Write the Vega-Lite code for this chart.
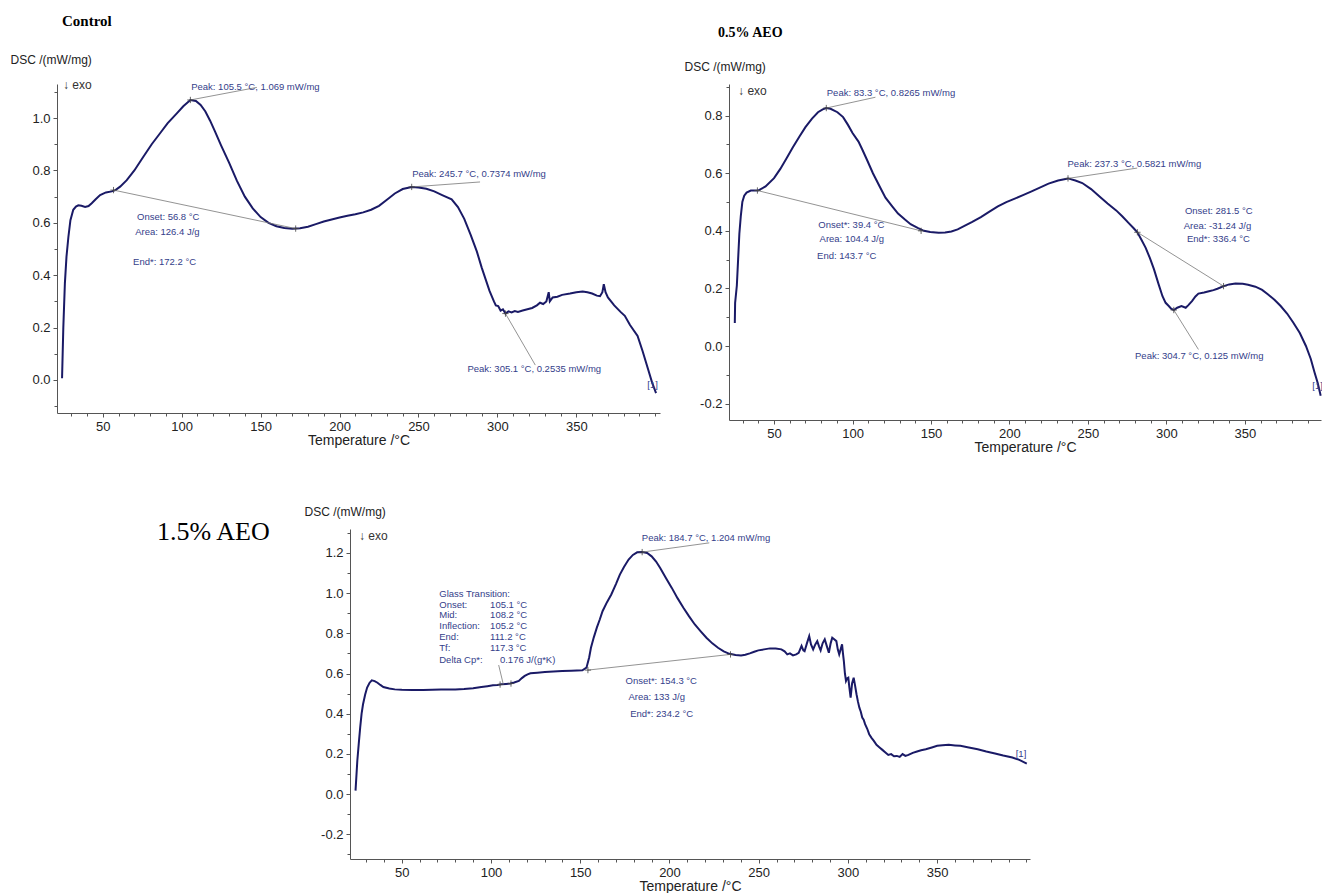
{
"$schema": "https://vega.github.io/schema/vega-lite/v6.json",
"background": "white",
"padding": {"left": 10, "top": 14, "right": 0, "bottom": 0},
"config": {
 "view": {"stroke": null},
 "axis": {"grid": false, "domainColor": "#555", "tickColor": "#555", "labelColor": "#222", "titleColor": "#222", "labelFont": "Liberation Sans", "titleFont": "Liberation Sans", "labelFontSize": 13, "titleFontWeight": "normal", "tickSize": 4, "labelPadding": 3, "labelFlush": false},
 "axisX": {"titleFontSize": 14, "titlePadding": 0},
 "axisY": {"titleFontSize": 12, "titleAngle": 0, "titleAlign": "left", "titleBaseline": "middle"},
 "title": {"font": "Liberation Serif", "color": "#000", "anchor": "start", "frame": "group"},
 "text": {"font": "Liberation Sans"}
},
"spacing": 51,
"vconcat": [
{"hconcat": [
{
 "width": 603, "height": 329,
 "title": {"text": "Control", "fontSize": 15, "fontWeight": "bold", "dx": 5, "offset": 24},
 "resolve": {"axis": {"x": "independent", "y": "independent"}},
 "layer": [
  {"data": {"values": [
{"t":24.2,"v":0.007},{"t":25,"v":0.2},{"t":26,"v":0.37},{"t":27,"v":0.47},{"t":28.2,"v":0.545},{"t":29.5,"v":0.61},{"t":31.3,"v":0.65},{"t":33,"v":0.662},{"t":34.5,"v":0.667},{"t":36.5,"v":0.665},{"t":38.8,"v":0.661},{"t":41,"v":0.664},{"t":43,"v":0.675},{"t":45.5,"v":0.69},{"t":48.3,"v":0.706},{"t":52,"v":0.716},{"t":55.7,"v":0.72},{"t":58,"v":0.725},{"t":61,"v":0.738},{"t":65.2,"v":0.763},{"t":70,"v":0.8},{"t":75.7,"v":0.852},{"t":81,"v":0.9},{"t":86.3,"v":0.942},{"t":91,"v":0.98},{"t":96.9,"v":1.018},{"t":101,"v":1.045},{"t":105.5,"v":1.069},{"t":109,"v":1.065},{"t":112,"v":1.05},{"t":115,"v":1.025},{"t":118,"v":0.99},{"t":121,"v":0.95},{"t":125,"v":0.895},{"t":130,"v":0.83},{"t":135,"v":0.76},{"t":140,"v":0.7},{"t":145,"v":0.655},{"t":150,"v":0.622},{"t":155,"v":0.6},{"t":160,"v":0.587},{"t":165,"v":0.58},{"t":170,"v":0.577},{"t":175,"v":0.579},{"t":180,"v":0.585},{"t":185,"v":0.595},{"t":190,"v":0.605},{"t":195,"v":0.613},{"t":200,"v":0.62},{"t":205,"v":0.627},{"t":210,"v":0.633},{"t":215,"v":0.64},{"t":220,"v":0.65},{"t":225,"v":0.665},{"t":230,"v":0.688},{"t":235,"v":0.712},{"t":240,"v":0.729},{"t":245.7,"v":0.737},{"t":250,"v":0.735},{"t":255,"v":0.73},{"t":260,"v":0.72},{"t":265,"v":0.706},{"t":271,"v":0.69},{"t":275,"v":0.66},{"t":279,"v":0.615},{"t":283,"v":0.555},{"t":287,"v":0.49},{"t":290,"v":0.43},{"t":292.5,"v":0.385},{"t":295,"v":0.34},{"t":297.8,"v":0.3},{"t":299,"v":0.285},{"t":300.5,"v":0.282},{"t":302,"v":0.265},{"t":303.5,"v":0.27},{"t":305.1,"v":0.2535},{"t":307,"v":0.262},{"t":309,"v":0.258},{"t":311,"v":0.263},{"t":313,"v":0.26},{"t":316,"v":0.265},{"t":319,"v":0.27},{"t":322,"v":0.275},{"t":325,"v":0.285},{"t":327,"v":0.295},{"t":329,"v":0.29},{"t":331,"v":0.3},{"t":332.5,"v":0.335},{"t":333.2,"v":0.3},{"t":335,"v":0.315},{"t":338,"v":0.318},{"t":341,"v":0.325},{"t":346,"v":0.33},{"t":350,"v":0.335},{"t":354,"v":0.338},{"t":357,"v":0.335},{"t":360,"v":0.33},{"t":363,"v":0.322},{"t":365,"v":0.32},{"t":366.5,"v":0.335},{"t":367.4,"v":0.366},{"t":368.5,"v":0.335},{"t":370,"v":0.315},{"t":374,"v":0.285},{"t":378,"v":0.26},{"t":380.7,"v":0.245},{"t":384,"v":0.21},{"t":388.8,"v":0.168},{"t":392,"v":0.11},{"t":395.5,"v":0.04},{"t":398,"v":-0.01},{"t":400.5,"v":-0.05}
  ]},
   "mark": {"type": "line", "color": "#1a1a66", "strokeWidth": 2},
   "encoding": {
    "x": {"field": "t", "type": "quantitative", "scale": {"domain": [21, 403], "nice": false, "zero": false},
      "axis": {"title": "Temperature /°C", "orient": "bottom", "values": [50,100,150,200,250,300,350]}},
    "y": {"field": "v", "type": "quantitative", "scale": {"domain": [-0.126, 1.13], "nice": false, "zero": false},
      "axis": {"title": "DSC /(mW/mg)", "orient": "left", "titleX": -47, "titleY": -25, "values": [0,0.2,0.4,0.6,0.8,1], "format": ".1f", "labelExpr": "replace(datum.label, '\u2212', '-')"}}
   }},
  {"data": {"values": [
{"t1":56.8,"v1":0.725,"t2":172.2,"v2":0.578},{"t1":105.5,"v1":1.069,"t2":147.6,"v2":1.117},{"t1":245.7,"v1":0.737,"t2":289,"v2":0.756},{"t1":305.1,"v1":0.2535,"t2":324,"v2":0.057}
  ]},
   "mark": {"type": "rule", "color": "#777", "strokeWidth": 0.8},
   "encoding": {
    "x": {"field": "t1", "type": "quantitative", "axis": {"orient": "bottom", "title": null, "labels": false, "domain": false, "tickSize": 3, "values": [30,40,60,70,80,90,110,120,130,140,160,170,180,190,210,220,230,240,260,270,280,290,310,320,330,340,360,370,380,390,400]}},
    "x2": {"field": "t2"},
    "y": {"field": "v1", "type": "quantitative", "axis": {"orient": "left", "title": null, "labels": false, "domain": false, "tickSize": 3, "values": [-0.1,0.1,0.3,0.5,0.7,0.9,1.1]}},
    "y2": {"field": "v2"}}},
  {"data": {"values": [{"t":56.8,"v":0.725},{"t":172.2,"v":0.578},{"t":105.5,"v":1.069},{"t":245.7,"v":0.737},{"t":305.1,"v":0.2535}]},
   "mark": {"type": "point", "shape": "M0,-1L0,1M-1,0L1,0", "size": 40, "filled": false, "color": "#444", "strokeWidth": 0.8, "opacity": 1},
   "encoding": {"x": {"field": "t", "type": "quantitative", "axis": null}, "y": {"field": "v", "type": "quantitative", "axis": null}}},
  {"data": {"values": [
{"t":106,"v":1.118,"label":"Peak: 105.5 °C, 1.069 mW/mg"},{"t":246,"v":0.786,"label":"Peak: 245.7 °C, 0.7374 mW/mg"},{"t":281,"v":0.042,"label":"Peak: 305.1 °C, 0.2535 mW/mg"},{"t":71.7,"v":0.622,"label":"Onset: 56.8 °C"},{"t":70.5,"v":0.565,"label":"Area: 126.4 J/g"},{"t":69.2,"v":0.45,"label":"End*: 172.2 °C"},{"t":395,"v":-0.02,"label":"[1]"}
  ]},
   "mark": {"type": "text", "align": "left", "baseline": "middle", "fontSize": 9.5, "color": "#34408a"},
   "encoding": {"x": {"field": "t", "type": "quantitative", "axis": null}, "y": {"field": "v", "type": "quantitative", "axis": null}, "text": {"field": "label"}}},
  {"data": {"values": [{"t":24.8,"v":1.126,"label":"↓ exo"}]},
   "mark": {"type": "text", "align": "left", "baseline": "middle", "fontSize": 12, "color": "#333"},
   "encoding": {"x": {"field": "t", "type": "quantitative", "axis": null}, "y": {"field": "v", "type": "quantitative", "axis": null}, "text": {"field": "label"}}}
 ]
},
{
 "width": 592, "height": 336,
 "title": {"text": "0.5% AEO", "fontSize": 14, "fontWeight": "bold", "dx": -11, "offset": 20},
 "resolve": {"axis": {"x": "independent", "y": "independent"}},
 "layer": [
  {"data": {"values": [
{"t":25,"v":0.08},{"t":25.2,"v":0.15},{"t":26.3,"v":0.21},{"t":27.1,"v":0.3},{"t":27.9,"v":0.39},{"t":28.8,"v":0.45},{"t":29.8,"v":0.5},{"t":31,"v":0.522},{"t":32.5,"v":0.533},{"t":35.2,"v":0.54},{"t":39.8,"v":0.54},{"t":44.6,"v":0.554},{"t":50,"v":0.583},{"t":54,"v":0.615},{"t":58,"v":0.652},{"t":62,"v":0.69},{"t":66.1,"v":0.727},{"t":70,"v":0.76},{"t":74.2,"v":0.79},{"t":78,"v":0.812},{"t":81,"v":0.822},{"t":83.3,"v":0.8265},{"t":86,"v":0.824},{"t":90.4,"v":0.812},{"t":94,"v":0.795},{"t":97.1,"v":0.768},{"t":100,"v":0.74},{"t":103.8,"v":0.71},{"t":106,"v":0.685},{"t":109.2,"v":0.647},{"t":113,"v":0.6},{"t":117.3,"v":0.554},{"t":121,"v":0.515},{"t":125.3,"v":0.485},{"t":129,"v":0.46},{"t":133.4,"v":0.439},{"t":137,"v":0.423},{"t":141.5,"v":0.41},{"t":145.5,"v":0.4},{"t":149.5,"v":0.396},{"t":154.9,"v":0.393},{"t":159,"v":0.394},{"t":163,"v":0.398},{"t":167,"v":0.405},{"t":171,"v":0.416},{"t":176,"v":0.43},{"t":181.8,"v":0.448},{"t":187,"v":0.466},{"t":192.6,"v":0.485},{"t":198,"v":0.5},{"t":203.4,"v":0.512},{"t":209,"v":0.525},{"t":214.1,"v":0.537},{"t":219,"v":0.549},{"t":224.9,"v":0.564},{"t":231,"v":0.575},{"t":237.3,"v":0.5821},{"t":242,"v":0.575},{"t":246.4,"v":0.566},{"t":252,"v":0.545},{"t":257.2,"v":0.52},{"t":262.5,"v":0.495},{"t":268,"v":0.471},{"t":272,"v":0.45},{"t":276,"v":0.427},{"t":279,"v":0.41},{"t":281.5,"v":0.395},{"t":284,"v":0.37},{"t":286.8,"v":0.341},{"t":289.5,"v":0.305},{"t":292.1,"v":0.266},{"t":295,"v":0.215},{"t":297.5,"v":0.173},{"t":299.5,"v":0.15},{"t":301.5,"v":0.139},{"t":303,"v":0.13},{"t":304.7,"v":0.125},{"t":306.9,"v":0.133},{"t":309.6,"v":0.139},{"t":312.3,"v":0.133},{"t":314,"v":0.142},{"t":316.3,"v":0.156},{"t":318.5,"v":0.172},{"t":320.4,"v":0.182},{"t":324,"v":0.186},{"t":327.1,"v":0.19},{"t":330,"v":0.194},{"t":332.5,"v":0.199},{"t":336.5,"v":0.208},{"t":340,"v":0.214},{"t":344,"v":0.217},{"t":348.6,"v":0.216},{"t":352,"v":0.213},{"t":356.7,"v":0.206},{"t":361,"v":0.195},{"t":364.8,"v":0.179},{"t":369,"v":0.16},{"t":372.8,"v":0.139},{"t":377,"v":0.112},{"t":380.9,"v":0.081},{"t":385,"v":0.045},{"t":388.9,"v":0.0},{"t":392,"v":-0.045},{"t":394.4,"v":-0.092},{"t":396.5,"v":-0.13},{"t":398.3,"v":-0.173}
  ]},
   "mark": {"type": "line", "color": "#1a1a66", "strokeWidth": 2},
   "encoding": {
    "x": {"field": "t", "type": "quantitative", "scale": {"domain": [21.3, 398.5], "nice": false, "zero": false},
      "axis": {"title": "Temperature /°C", "orient": "bottom", "values": [50,100,150,200,250,300,350]}},
    "y": {"field": "v", "type": "quantitative", "scale": {"domain": [-0.257, 0.91], "nice": false, "zero": false},
      "axis": {"title": "DSC /(mW/mg)", "orient": "left", "titleX": -45, "titleY": -18, "values": [-0.2,0,0.2,0.4,0.6,0.8], "format": ".1f", "labelExpr": "replace(datum.label, '\u2212', '-')"}}
   }},
  {"data": {"values": [
{"t1":39.4,"v1":0.54,"t2":143.7,"v2":0.4},{"t1":281.5,"v1":0.395,"t2":336.4,"v2":0.208},{"t1":83.3,"v1":0.8265,"t2":114.6,"v2":0.864},{"t1":237.3,"v1":0.5821,"t2":281.4,"v2":0.618},{"t1":304.7,"v1":0.125,"t2":320.4,"v2":-0.012}
  ]},
   "mark": {"type": "rule", "color": "#777", "strokeWidth": 0.8},
   "encoding": {
    "x": {"field": "t1", "type": "quantitative", "axis": {"orient": "bottom", "title": null, "labels": false, "domain": false, "tickSize": 3, "values": [30,40,60,70,80,90,110,120,130,140,160,170,180,190,210,220,230,240,260,270,280,290,310,320,330,340,360,370,380,390]}},
    "x2": {"field": "t2"},
    "y": {"field": "v1", "type": "quantitative", "axis": {"orient": "left", "title": null, "labels": false, "domain": false, "tickSize": 3, "values": [-0.1,0.1,0.3,0.5,0.7,0.9]}},
    "y2": {"field": "v2"}}},
  {"data": {"values": [{"t":39.4,"v":0.54},{"t":143.7,"v":0.4},{"t":281.5,"v":0.395},{"t":336.4,"v":0.208},{"t":83.3,"v":0.8265},{"t":237.3,"v":0.5821},{"t":304.7,"v":0.125}]},
   "mark": {"type": "point", "shape": "M0,-1L0,1M-1,0L1,0", "size": 40, "filled": false, "color": "#444", "strokeWidth": 0.8, "opacity": 1},
   "encoding": {"x": {"field": "t", "type": "quantitative", "axis": null}, "y": {"field": "v", "type": "quantitative", "axis": null}}},
  {"data": {"values": [
{"t":83.6,"v":0.878,"label":"Peak: 83.3 °C, 0.8265 mW/mg"},{"t":237,"v":0.633,"label":"Peak: 237.3 °C, 0.5821 mW/mg"},{"t":78.2,"v":0.421,"label":"Onset*: 39.4 °C"},{"t":79,"v":0.37,"label":"Area: 104.4 J/g"},{"t":77.4,"v":0.312,"label":"End: 143.7 °C"},{"t":311.8,"v":0.468,"label":"Onset: 281.5 °C"},{"t":311,"v":0.418,"label":"Area: -31.24 J/g"},{"t":313.1,"v":0.37,"label":"End*: 336.4 °C"},{"t":280,"v":-0.035,"label":"Peak: 304.7 °C, 0.125 mW/mg"},{"t":393,"v":-0.14,"label":"[1]"}
  ]},
   "mark": {"type": "text", "align": "left", "baseline": "middle", "fontSize": 9.5, "color": "#34408a"},
   "encoding": {"x": {"field": "t", "type": "quantitative", "axis": null}, "y": {"field": "v", "type": "quantitative", "axis": null}, "text": {"field": "label"}}},
  {"data": {"values": [{"t":27.1,"v":0.886,"label":"↓ exo"}]},
   "mark": {"type": "text", "align": "left", "baseline": "middle", "fontSize": 12, "color": "#333"},
   "encoding": {"x": {"field": "t", "type": "quantitative", "axis": null}, "y": {"field": "v", "type": "quantitative", "axis": null}, "text": {"field": "label"}}}
 ]
}
], "spacing": 23},
{"hconcat": [
{
 "width": 100, "height": 1,
 "data": {"values": [{"k": 0}]},
 "mark": {"type": "point", "opacity": 0}
},
{
 "width": 680, "height": 330,
 "title": {"text": "1.5% AEO", "fontSize": 26, "fontWeight": "normal", "dx": -193, "dy": 40, "offset": 0},
 "resolve": {"axis": {"x": "independent", "y": "independent"}},
 "layer": [
  {"data": {"values": [
{"t":24.1,"v":0.017},{"t":25.1,"v":0.166},{"t":25.9,"v":0.25},{"t":26.7,"v":0.331},{"t":27.5,"v":0.4},{"t":28.3,"v":0.447},{"t":29.5,"v":0.495},{"t":30.6,"v":0.53},{"t":31.9,"v":0.553},{"t":33.2,"v":0.566},{"t":34.8,"v":0.562},{"t":36.4,"v":0.554},{"t":38,"v":0.543},{"t":39.7,"v":0.533},{"t":43,"v":0.525},{"t":46.1,"v":0.521},{"t":50,"v":0.519},{"t":55.8,"v":0.518},{"t":62,"v":0.518},{"t":72,"v":0.52},{"t":80,"v":0.521},{"t":84.9,"v":0.523},{"t":90,"v":0.527},{"t":94.6,"v":0.533},{"t":98,"v":0.537},{"t":101.1,"v":0.541},{"t":103.5,"v":0.543},{"t":105.9,"v":0.546},{"t":108.5,"v":0.548},{"t":110.8,"v":0.55},{"t":113,"v":0.555},{"t":115.6,"v":0.563},{"t":117.3,"v":0.577},{"t":118.9,"v":0.588},{"t":120.5,"v":0.596},{"t":122.1,"v":0.601},{"t":126,"v":0.604},{"t":130.2,"v":0.607},{"t":135,"v":0.61},{"t":139.9,"v":0.612},{"t":145,"v":0.614},{"t":151.2,"v":0.616},{"t":153.5,"v":0.629},{"t":155,"v":0.68},{"t":156,"v":0.728},{"t":157.6,"v":0.78},{"t":159.3,"v":0.828},{"t":161,"v":0.87},{"t":162.5,"v":0.91},{"t":165,"v":0.955},{"t":167.4,"v":0.993},{"t":170,"v":1.045},{"t":172.2,"v":1.092},{"t":174.5,"v":1.13},{"t":177.1,"v":1.167},{"t":179.5,"v":1.19},{"t":181.9,"v":1.203},{"t":184.7,"v":1.204},{"t":187.5,"v":1.2},{"t":190,"v":1.183},{"t":192.5,"v":1.157},{"t":194.8,"v":1.125},{"t":198,"v":1.075},{"t":201.3,"v":1.026},{"t":204.5,"v":0.975},{"t":207.8,"v":0.927},{"t":211,"v":0.884},{"t":214.2,"v":0.844},{"t":217.5,"v":0.81},{"t":220.7,"v":0.778},{"t":224,"v":0.75},{"t":227.2,"v":0.728},{"t":230.4,"v":0.71},{"t":233.6,"v":0.698},{"t":237,"v":0.692},{"t":240.1,"v":0.69},{"t":242.5,"v":0.693},{"t":245,"v":0.7},{"t":247.5,"v":0.708},{"t":249.8,"v":0.715},{"t":253,"v":0.72},{"t":256.3,"v":0.725},{"t":259.5,"v":0.724},{"t":262.7,"v":0.72},{"t":264.5,"v":0.71},{"t":266,"v":0.695},{"t":267.5,"v":0.7},{"t":269.2,"v":0.69},{"t":271,"v":0.695},{"t":272.4,"v":0.703},{"t":273.2,"v":0.72},{"t":274,"v":0.737},{"t":275,"v":0.715},{"t":275.7,"v":0.711},{"t":277,"v":0.75},{"t":278.3,"v":0.786},{"t":279.3,"v":0.745},{"t":280.5,"v":0.72},{"t":281.7,"v":0.745},{"t":282.8,"v":0.761},{"t":283.8,"v":0.735},{"t":284.7,"v":0.715},{"t":285.8,"v":0.75},{"t":287,"v":0.77},{"t":288.2,"v":0.735},{"t":289.3,"v":0.703},{"t":290.3,"v":0.75},{"t":291.2,"v":0.778},{"t":292.3,"v":0.77},{"t":293.5,"v":0.761},{"t":294.3,"v":0.72},{"t":295.1,"v":0.695},{"t":295.9,"v":0.72},{"t":296.7,"v":0.745},{"t":297.2,"v":0.7},{"t":297.7,"v":0.662},{"t":298.3,"v":0.6},{"t":298.9,"v":0.563},{"t":299.5,"v":0.575},{"t":300.2,"v":0.579},{"t":300.8,"v":0.53},{"t":301.5,"v":0.48},{"t":302.3,"v":0.55},{"t":303.2,"v":0.579},{"t":304,"v":0.54},{"t":304.8,"v":0.497},{"t":305.6,"v":0.46},{"t":306.4,"v":0.43},{"t":307.2,"v":0.41},{"t":308,"v":0.381},{"t":308.8,"v":0.37},{"t":309.6,"v":0.348},{"t":310.8,"v":0.325},{"t":311.9,"v":0.298},{"t":313.2,"v":0.28},{"t":314.5,"v":0.265},{"t":316,"v":0.245},{"t":317.7,"v":0.232},{"t":319.3,"v":0.22},{"t":321,"v":0.207},{"t":322.6,"v":0.195},{"t":324.2,"v":0.199},{"t":325.8,"v":0.188},{"t":327.4,"v":0.19},{"t":329,"v":0.185},{"t":330.6,"v":0.199},{"t":332.2,"v":0.19},{"t":333.9,"v":0.195},{"t":336.3,"v":0.205},{"t":338.7,"v":0.212},{"t":341,"v":0.218},{"t":343.6,"v":0.223},{"t":347,"v":0.232},{"t":350,"v":0.24},{"t":353,"v":0.243},{"t":356.5,"v":0.245},{"t":360,"v":0.242},{"t":363,"v":0.24},{"t":367,"v":0.233},{"t":372.7,"v":0.223},{"t":377.5,"v":0.212},{"t":382.4,"v":0.202},{"t":387,"v":0.192},{"t":392.1,"v":0.182},{"t":396,"v":0.17},{"t":400.2,"v":0.152}
  ]},
   "mark": {"type": "line", "color": "#1a1a66", "strokeWidth": 2},
   "encoding": {
    "x": {"field": "t", "type": "quantitative", "scale": {"domain": [21, 402], "nice": false, "zero": false},
      "axis": {"title": "Temperature /°C", "orient": "bottom", "values": [50,100,150,200,250,300,350]}},
    "y": {"field": "v", "type": "quantitative", "scale": {"domain": [-0.323, 1.319], "nice": false, "zero": false},
      "axis": {"title": "DSC /(mW/mg)", "orient": "left", "titleX": -46, "titleY": -18, "values": [-0.2,0,0.2,0.4,0.6,0.8,1,1.2], "format": ".1f", "labelExpr": "replace(datum.label, '\u2212', '-')"}}
   }},
  {"data": {"values": [
{"t1":154.3,"v1":0.617,"t2":234.2,"v2":0.695},{"t1":184.7,"v1":1.204,"t2":222.3,"v2":1.25},{"t1":106.9,"v1":0.546,"t2":104.3,"v2":0.642}
  ]},
   "mark": {"type": "rule", "color": "#777", "strokeWidth": 0.8},
   "encoding": {
    "x": {"field": "t1", "type": "quantitative", "axis": {"orient": "bottom", "title": null, "labels": false, "domain": false, "tickSize": 3, "values": [30,40,60,70,80,90,110,120,130,140,160,170,180,190,210,220,230,240,260,270,280,290,310,320,330,340,360,370,380,390,400]}},
    "x2": {"field": "t2"},
    "y": {"field": "v1", "type": "quantitative", "axis": {"orient": "left", "title": null, "labels": false, "domain": false, "tickSize": 3, "values": [-0.3,-0.1,0.1,0.3,0.5,0.7,0.9,1.1,1.3]}},
    "y2": {"field": "v2"}}},
  {"data": {"values": [{"t":105.1,"v":0.545},{"t":111.2,"v":0.55},{"t":154.3,"v":0.617},{"t":234.2,"v":0.695},{"t":184.7,"v":1.204}]},
   "mark": {"type": "point", "shape": "M0,-1L0,1M-1,0L1,0", "size": 40, "filled": false, "color": "#444", "strokeWidth": 0.8, "opacity": 1},
   "encoding": {"x": {"field": "t", "type": "quantitative", "axis": null}, "y": {"field": "v", "type": "quantitative", "axis": null}}},
  {"data": {"values": [
{"t":184.5,"v":1.274,"label":"Peak: 184.7 °C, 1.204 mW/mg"},{"t":71,"v":0.998,"label":"Glass Transition:"},{"t":71,"v":0.943,"label":"Onset:"},{"t":99.5,"v":0.943,"label":"105.1 °C"},{"t":71,"v":0.889,"label":"Mid:"},{"t":99.5,"v":0.889,"label":"108.2 °C"},{"t":71,"v":0.834,"label":"Inflection:"},{"t":99.5,"v":0.834,"label":"105.2 °C"},{"t":71,"v":0.78,"label":"End:"},{"t":99.5,"v":0.78,"label":"111.2 °C"},{"t":71,"v":0.725,"label":"Tf:"},{"t":99.5,"v":0.725,"label":"117.3 °C"},{"t":71,"v":0.669,"label":"Delta Cp*:"},{"t":105,"v":0.669,"label":"0.176 J/(g*K)"},{"t":175.4,"v":0.563,"label":"Onset*: 154.3 °C"},{"t":177,"v":0.485,"label":"Area: 133 J/g"},{"t":178,"v":0.397,"label":"End*: 234.2 °C"},{"t":394,"v":0.199,"label":"[1]"}
  ]},
   "mark": {"type": "text", "align": "left", "baseline": "middle", "fontSize": 9.5, "color": "#34408a"},
   "encoding": {"x": {"field": "t", "type": "quantitative", "axis": null}, "y": {"field": "v", "type": "quantitative", "axis": null}, "text": {"field": "label"}}},
  {"data": {"values": [{"t":26,"v":1.286,"label":"↓ exo"}]},
   "mark": {"type": "text", "align": "left", "baseline": "middle", "fontSize": 12, "color": "#333"},
   "encoding": {"x": {"field": "t", "type": "quantitative", "axis": null}, "y": {"field": "v", "type": "quantitative", "axis": null}, "text": {"field": "label"}}}
 ]
}
], "spacing": 0}
]
}
